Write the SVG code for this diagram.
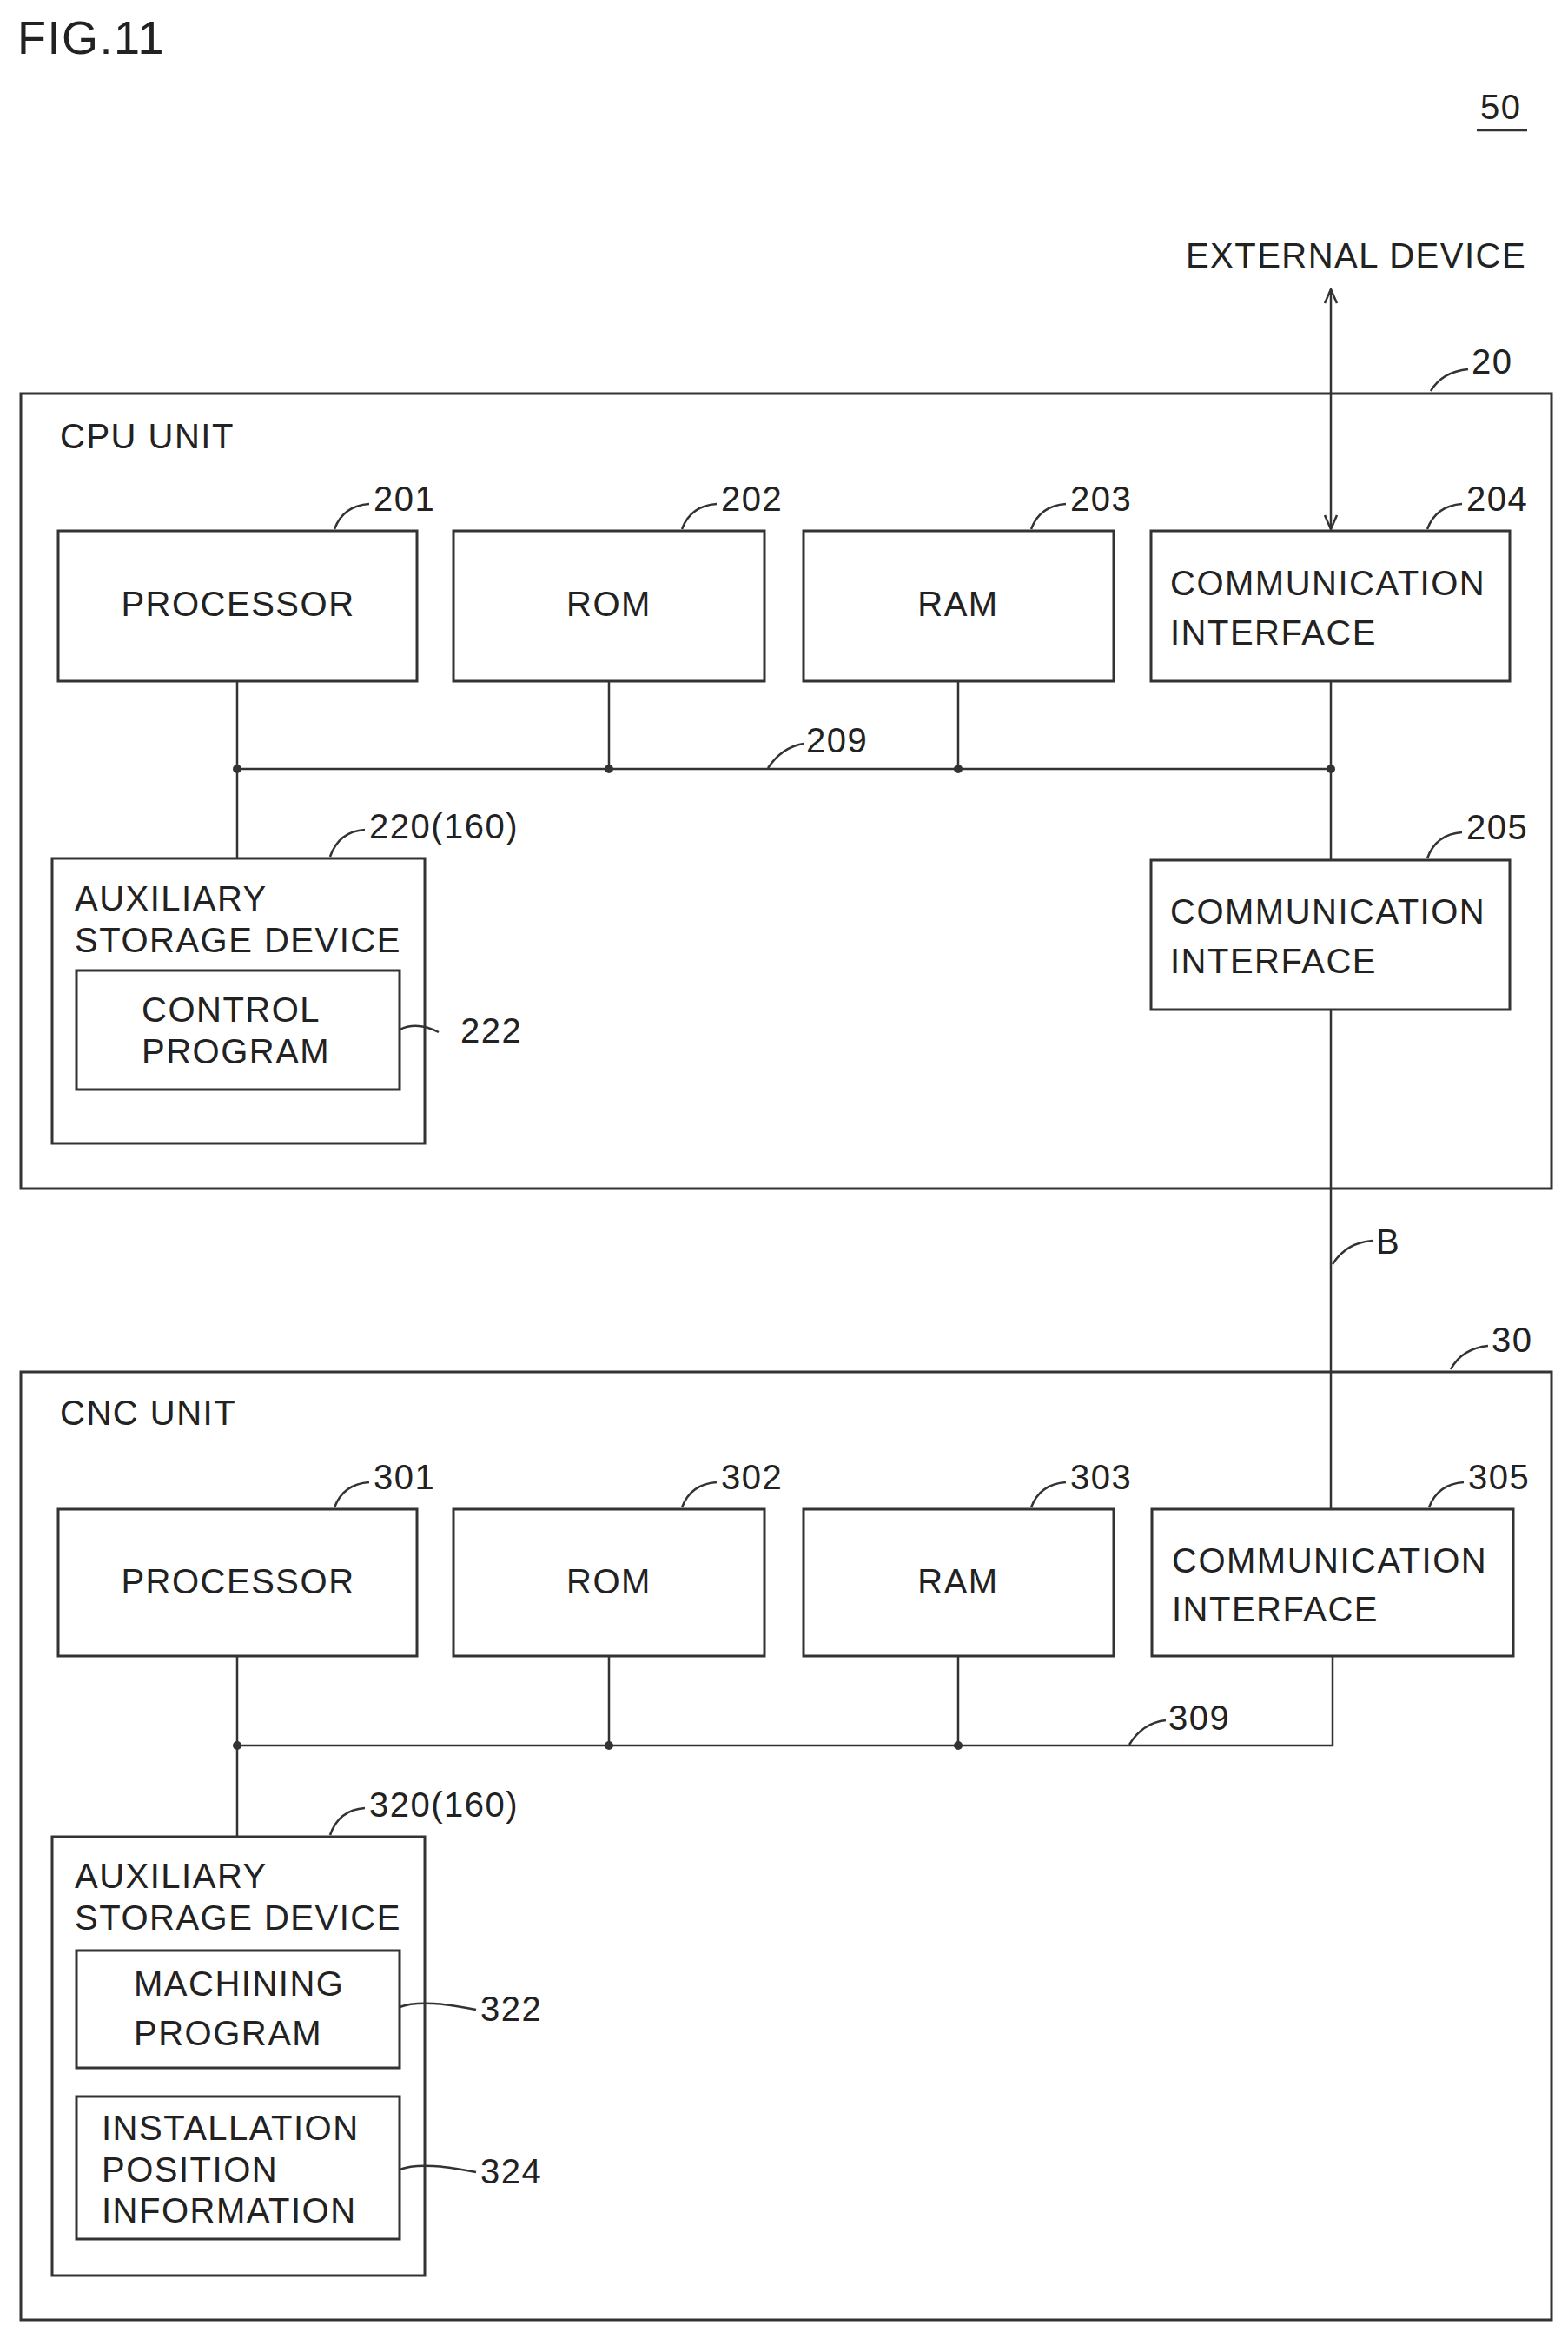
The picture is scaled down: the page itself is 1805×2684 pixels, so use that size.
<svg xmlns="http://www.w3.org/2000/svg" width="1805" height="2684" viewBox="0 0 1805 2684">
<style>
text{font-family:"Liberation Sans",Arial,sans-serif;font-size:40px;fill:#222;letter-spacing:1.5px}
.c{text-anchor:middle}
.b{fill:none;stroke:#333;stroke-width:3}
.l{fill:none;stroke:#333;stroke-width:2.5}
</style>
<defs><marker id="ah" viewBox="0 0 20 20" refX="18" refY="10" markerWidth="20" markerHeight="20" orient="auto-start-reverse" markerUnits="userSpaceOnUse"><path d="M2,3 L18,10 L2,17" fill="none" stroke="#333" stroke-width="2.5"/></marker></defs>
<text x="20" y="62" style="font-size:54px">FIG.11</text>
<text x="1704" y="137">50</text>
<line x1="1700" y1="150" x2="1758" y2="150" class="l"/>
<text x="1561" y="308" class="c">EXTERNAL DEVICE</text>
<g id="cpu">
<rect x="24" y="453" width="1762" height="915" class="b"/>
<text x="69" y="516">CPU UNIT</text>
<path d="M1647,450 Q1660,428 1690,425" class="l"/><text x="1694" y="430">20</text>
</g>
<g id="n201"><rect x="67" y="611" width="413" height="173" class="b"/><text x="274" y="709" class="c">PROCESSOR</text><path d="M385,609 Q395,582 425,580" class="l"/><text x="430" y="588">201</text></g>
<g id="n202"><rect x="522" y="611" width="358" height="173" class="b"/><text x="701" y="709" class="c">ROM</text><path d="M785,609 Q795,582 825,580" class="l"/><text x="830" y="588">202</text></g>
<g id="n203"><rect x="925" y="611" width="357" height="173" class="b"/><text x="1103" y="709" class="c">RAM</text><path d="M1187,609 Q1197,582 1227,580" class="l"/><text x="1232" y="588">203</text></g>
<g id="n204"><rect x="1325" y="611" width="413" height="173" class="b"/><text x="1347" y="685">COMMUNICATION</text><text x="1347" y="742">INTERFACE</text><path d="M1643,609 Q1653,582 1683,580" class="l"/><text x="1688" y="588">204</text></g>
<g id="n220"><rect x="60" y="988" width="429" height="328" class="b"/><text x="86" y="1048">AUXILIARY</text><text x="86" y="1096">STORAGE DEVICE</text><path d="M380,986 Q390,957 420,955" class="l"/><text x="425" y="965">220(160)</text></g>
<g id="n222"><rect x="88" y="1117" width="372" height="137" class="b"/><text x="163" y="1176">CONTROL</text><text x="163" y="1224">PROGRAM</text><path d="M460,1185 Q480,1175 505,1188" class="l"/><text x="530" y="1200">222</text></g>
<g id="n205"><rect x="1325" y="990" width="413" height="172" class="b"/><text x="1347" y="1063">COMMUNICATION</text><text x="1347" y="1120">INTERFACE</text><path d="M1643,988 Q1653,960 1683,958" class="l"/><text x="1688" y="966">205</text></g>
<g id="cnc">
<rect x="24" y="1579" width="1762" height="1091" class="b"/>
<text x="69" y="1640">CNC UNIT</text>
<path d="M1670,1576 Q1683,1552 1713,1549" class="l"/><text x="1717" y="1556">30</text>
</g>
<g id="n301"><rect x="67" y="1737" width="413" height="169" class="b"/><text x="274" y="1834" class="c">PROCESSOR</text><path d="M385,1735 Q395,1708 425,1706" class="l"/><text x="430" y="1714">301</text></g>
<g id="n302"><rect x="522" y="1737" width="358" height="169" class="b"/><text x="701" y="1834" class="c">ROM</text><path d="M785,1735 Q795,1708 825,1706" class="l"/><text x="830" y="1714">302</text></g>
<g id="n303"><rect x="925" y="1737" width="357" height="169" class="b"/><text x="1103" y="1834" class="c">RAM</text><path d="M1187,1735 Q1197,1708 1227,1706" class="l"/><text x="1232" y="1714">303</text></g>
<g id="n305"><rect x="1326" y="1737" width="416" height="169" class="b"/><text x="1349" y="1810">COMMUNICATION</text><text x="1349" y="1866">INTERFACE</text><path d="M1645,1735 Q1655,1708 1685,1706" class="l"/><text x="1690" y="1714">305</text></g>
<g id="n320"><rect x="60" y="2114" width="429" height="505" class="b"/><text x="86" y="2173">AUXILIARY</text><text x="86" y="2221">STORAGE DEVICE</text><path d="M380,2112 Q390,2083 420,2081" class="l"/><text x="425" y="2091">320(160)</text></g>
<g id="n322"><rect x="88" y="2245" width="372" height="135" class="b"/><text x="154" y="2297">MACHINING</text><text x="154" y="2354">PROGRAM</text><path d="M460,2310 Q485,2300 548,2313" class="l"/><text x="553" y="2326">322</text></g>
<g id="n324"><rect x="88" y="2413" width="372" height="164" class="b"/><text x="117" y="2463">INSTALLATION</text><text x="117" y="2511">POSITION</text><text x="117" y="2558">INFORMATION</text><path d="M460,2497 Q485,2487 548,2500" class="l"/><text x="553" y="2513">324</text></g>
<g id="connectors">
<line x1="1532" y1="333" x2="1532" y2="609" class="l" marker-start="url(#ah)" marker-end="url(#ah)"/>
<line x1="273" y1="885" x2="1532" y2="885" class="l"/>
<line x1="273" y1="784" x2="273" y2="988" class="l"/>
<line x1="701" y1="784" x2="701" y2="885" class="l"/>
<line x1="1103" y1="784" x2="1103" y2="885" class="l"/>
<line x1="1532" y1="784" x2="1532" y2="990" class="l"/>
<g fill="#333"><circle cx="273" cy="885" r="5"/><circle cx="701" cy="885" r="5"/><circle cx="1103" cy="885" r="5"/><circle cx="1532" cy="885" r="5"/></g>
<path d="M884,884 Q900,860 925,856" class="l"/><text x="928" y="866">209</text>
<line x1="1532" y1="1162" x2="1532" y2="1737" class="l"/>
<path d="M1534,1455 Q1550,1430 1580,1428" class="l"/><text x="1584" y="1443">B</text>
<polyline points="273,1906 273,2114" class="l"/>
<polyline points="273,2009 1534,2009 1534,1906" class="l"/>
<line x1="701" y1="1906" x2="701" y2="2009" class="l"/>
<line x1="1103" y1="1906" x2="1103" y2="2009" class="l"/>
<g fill="#333"><circle cx="273" cy="2009" r="5"/><circle cx="701" cy="2009" r="5"/><circle cx="1103" cy="2009" r="5"/></g>
<path d="M1300,2008 Q1315,1983 1342,1980" class="l"/><text x="1345" y="1991">309</text>
</g>
</svg>
